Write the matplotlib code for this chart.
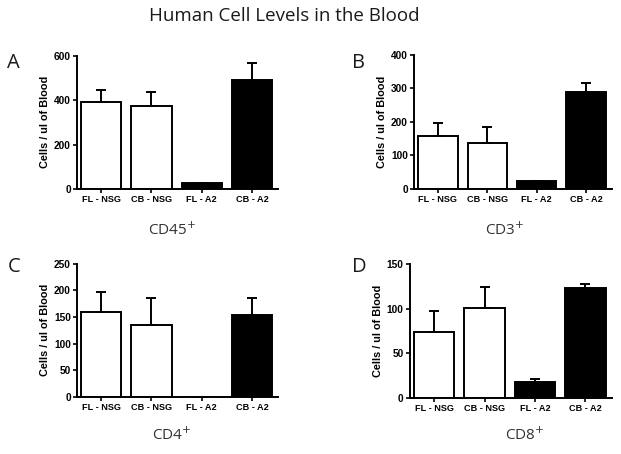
import numpy as np
import matplotlib.pyplot as plt

# data
groups = ['FL - NSG', 'CB - NSG', 'FL - A2', 'CB - A2']
bar_colors = ['white', 'white', 'black', 'black']

cd45_mean = [390, 373, 28, 493]
cd45_err = [55, 65, 0, 75]
cd3_mean = [158, 137, 22, 290]
cd3_err = [39, 48, 0, 27]
cd4_mean = [159, 135, 0, 153]
cd4_err = [38, 51, 0, 33]
cd8_mean = [74, 101, 17.6, 122.7]
cd8_err = [23, 23, 3.5, 4.5]

panels = [
    ('A', 'CD45$^{+}$', cd45_mean, cd45_err, [0, 200, 400, 600], 600),
    ('B', 'CD3$^{+}$', cd3_mean, cd3_err, [0, 100, 200, 300, 400], 400),
    ('C', 'CD4$^{+}$', cd4_mean, cd4_err, [0, 50, 100, 150, 200, 250], 250),
    ('D', 'CD8$^{+}$', cd8_mean, cd8_err, [0, 50, 100, 150], 150),
]

# axes boxes in figure fraction [left, bottom, width, height]
boxes = [
    [0.124, 0.584, 0.324, 0.293],
    [0.667, 0.584, 0.318, 0.295],
    [0.124, 0.126, 0.324, 0.293],
    [0.660, 0.123, 0.325, 0.296],
]
letter_pos = [(0.012, 0.862), (0.567, 0.862), (0.012, 0.412), (0.567, 0.412)]
sub_pos = [(0.277, 0.493), (0.813, 0.493), (0.277, 0.042), (0.845, 0.042)]

fig = plt.figure(figsize=(6.21, 4.54), dpi=100)
fig.text(0.457, 0.964, 'Human Cell Levels in the Blood', ha='center', va='center',
         fontsize=13.5, family='Open Sans', color='#1a1a1a')

x = np.arange(len(groups))
for i, (letter, sub, mean, err, ticks, top) in enumerate(panels):
    ax = fig.add_axes(boxes[i])
    ax.bar(x, mean, width=0.8, color=bar_colors, edgecolor='black', linewidth=1.4)
    lower = np.zeros(len(err))
    ax.errorbar(x, mean, yerr=[lower, err], fmt='none', ecolor='black',
                elinewidth=1.4, capsize=3.6, capthick=1.4)
    ax.set_xlim(-0.48, 3.52)
    ax.set_ylim(0, top)
    ax.set_yticks(ticks)
    ax.set_xticks(x)
    ax.set_xticklabels(groups, fontsize=6.6, fontweight='bold', family='Liberation Sans')
    for lab in ax.get_yticklabels():
        lab.set_fontsize(7.3)
        lab.set_fontweight('bold')
        lab.set_family('Liberation Sans')
    ax.set_ylabel('Cells / ul of Blood', fontsize=7.8, fontweight='bold',
                  family='Liberation Sans', labelpad=3)
    ax.spines['top'].set_visible(False)
    ax.spines['right'].set_visible(False)
    ax.spines['left'].set_linewidth(1.4)
    ax.spines['bottom'].set_linewidth(1.4)
    ax.tick_params(axis='both', width=1.2, length=3, pad=1.5)
    fig.text(letter_pos[i][0], letter_pos[i][1], letter, fontsize=14.5,
             family='Open Sans', va='center', color='#1a1a1a')
    fig.text(sub_pos[i][0], sub_pos[i][1], sub, fontsize=11, family='Open Sans',
             ha='center', va='center', color='#333333')

fig.savefig('out.png', dpi=100)
